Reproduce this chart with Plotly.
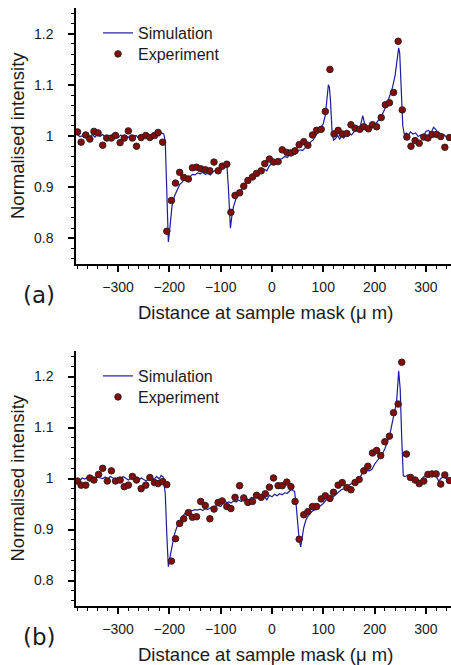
import plotly.graph_objects as go

# ---------------- data ----------------
sim_a_x = [-380, -375, -370, -365, -360, -355, -350, -345, -340, -335, -330, -325, -320, -315, -310, -305,
           -300, -295, -290, -285, -280, -275, -270, -265, -260, -255, -250, -245, -240, -235, -230, -225,
           -220, -215, -211, -208, -205, -202, -199, -195, -190, -185, -180, -175, -170, -165, -160, -155,
           -150, -145, -140, -135, -130, -125, -120, -115, -110, -105, -100, -95, -91, -88, -85, -81, -78,
           -75, -70, -65, -60, -55, -50, -45, -40, -35, -30, -25, -20, -15, -10, -5, 0, 5, 10, 15, 20, 25,
           30, 35, 40, 45, 50, 55, 60, 65, 70, 75, 80, 85, 90, 95, 100, 104, 107, 110, 112, 114, 117, 120,
           124, 128, 132, 136, 140, 145, 150, 155, 160, 165, 170, 174, 177, 181, 185, 190, 195, 200, 205,
           210, 215, 220, 225, 230, 235, 240, 244, 247, 249, 252, 255, 258, 262, 266, 270, 275, 280, 285,
           290, 295, 300, 305, 310, 315, 320, 325, 330, 335, 340, 345, 350]
sim_a_y = [1.004, 0.999, 1.000, 0.997, 1.001, 0.999, 1.003, 0.998, 1.004, 0.999, 1.003, 0.997, 1.001, 0.998, 1.003, 0.999,
           0.996, 1.002, 0.998, 1.001, 0.997, 1.002, 0.999, 1.001, 0.997, 1.000, 0.998, 1.002, 0.999, 1.001, 0.998, 1.003,
           1.000, 1.006, 1.004, 0.990, 0.880, 0.793, 0.820, 0.862, 0.883, 0.896, 0.905, 0.910, 0.917, 0.921, 0.920, 0.925,
           0.924, 0.928, 0.926, 0.929, 0.925, 0.927, 0.924, 0.930, 0.933, 0.936, 0.935, 0.940, 0.944, 0.946, 0.900, 0.820, 0.845,
           0.862, 0.878, 0.887, 0.895, 0.903, 0.909, 0.915, 0.918, 0.922, 0.927, 0.926, 0.931, 0.935, 0.932, 0.942, 0.946, 0.949, 0.951, 0.954, 0.956, 0.960,
           0.958, 0.964, 0.966, 0.964, 0.970, 0.973, 0.972, 0.978, 0.984, 0.988, 0.992, 1.000, 1.008, 1.016, 1.024, 1.040, 1.070, 1.100, 1.095, 1.070, 1.011, 0.992,
           0.995, 1.001, 0.994, 1.000, 0.996, 1.003, 1.005, 1.002, 1.008, 1.012, 1.010, 1.025, 1.040, 1.022, 1.015, 1.019, 1.016, 1.021, 1.027,
           1.034, 1.042, 1.052, 1.064, 1.080, 1.095, 1.118, 1.145, 1.172, 1.162, 1.100, 1.020, 1.003, 1.006, 1.002, 1.008, 1.004, 1.006, 0.999,
           1.002, 0.998, 1.009, 1.011, 1.006, 1.017, 1.012, 1.004, 0.999, 1.003, 0.998, 1.001, 0.999]

exp_a_x = [-379, -372, -363, -355, -347, -339, -330, -322, -313, -305, -296, -288, -280, -272, -264, -255, -246, -238,
           -229, -222, -213, -205, -196, -188, -180, -172, -163, -155, -147, -139, -130, -121, -113, -105, -97, -88,
           -80, -72, -63, -55, -47, -38, -30, -21, -14, -5, 3, 12, 20, 29, 37, 45, 53, 62, 70, 79, 87, 96, 104, 113,
           121, 129, 137, 146, 154, 162, 171, 179, 188, 196, 204, 213, 221, 229, 237, 246, 254, 263, 271, 279, 287,
           296, 304, 312, 321, 329, 337, 346]
exp_a_y = [1.008, 0.988, 1.002, 0.994, 1.009, 1.006, 0.982, 0.996, 0.996, 1.001, 0.987, 0.996, 1.010, 0.996, 0.980, 0.997, 1.001, 0.997,
           1.001, 1.007, 0.988, 0.814, 0.874, 0.908, 0.929, 0.919, 0.916, 0.938, 0.939, 0.936, 0.934, 0.932, 0.949, 0.932, 0.941, 0.945,
           0.851, 0.884, 0.889, 0.902, 0.913, 0.920, 0.927, 0.932, 0.946, 0.955, 0.949, 0.950, 0.973, 0.968, 0.967, 0.971, 0.983, 0.989, 0.982, 1.002, 1.011, 1.013, 1.048, 1.130,
           1.004, 1.011, 1.004, 1.005, 1.022, 1.015, 1.013, 1.018, 1.014, 1.022, 1.018, 1.036, 1.061, 1.065, 1.085, 1.185, 1.051, 0.998, 0.980, 0.991, 0.986,
           0.998, 0.996, 1.003, 1.003, 0.999, 0.978, 0.997]

sim_b_x = [-380, -375, -370, -365, -360, -355, -350, -345, -340, -335, -330, -325, -320, -315, -310, -305,
           -300, -295, -290, -285, -280, -275, -270, -265, -260, -255, -250, -245, -240, -235, -230, -225,
           -220, -216, -212, -208, -205, -202, -199, -196, -190, -185, -180, -175, -170, -165, -160, -155,
           -150, -145, -140, -135, -130, -125, -120, -115, -110, -105, -100, -95, -92, -88, -84, -80, -75,
           -70, -65, -60, -55, -50, -45, -40, -35, -30, -25, -20, -15, -10, -5, 0, 5, 10, 15, 20, 25, 30,
           35, 38, 41, 44, 47, 50, 53, 56, 59, 62, 66, 70, 75, 80, 85, 90, 95, 100, 105, 110, 115, 120, 125,
           130, 135, 140, 145, 150, 155, 160, 165, 170, 175, 177, 181, 185, 190, 195, 200, 205, 210, 215,
           220, 225, 230, 235, 240, 243, 247, 250, 253, 256, 260, 265, 270, 275, 280, 285, 290, 295, 300,
           305, 310, 315, 320, 325, 330, 335, 340, 345, 350]
sim_b_y = [0.998, 0.995, 1.001, 0.999, 1.002, 1.000, 1.003, 0.999, 1.004, 1.001, 1.000, 1.003, 0.999, 1.004, 1.001, 0.998,
           1.002, 0.999, 1.004, 1.000, 0.997, 1.001, 1.003, 0.999, 0.996, 1.001, 0.998, 0.995, 1.000, 1.003, 0.998, 1.004,
           0.999, 1.006, 1.003, 0.970, 0.890, 0.827, 0.845, 0.862, 0.891, 0.906, 0.917, 0.925, 0.931, 0.935, 0.938, 0.937,
           0.939, 0.938, 0.940, 0.937, 0.941, 0.939, 0.943, 0.942, 0.946, 0.947, 0.945, 0.951, 0.957, 0.952, 0.954, 0.952, 0.956,
           0.954, 0.958, 0.955, 0.959, 0.961, 0.958, 0.963, 0.962, 0.966, 0.964, 0.967, 0.965, 0.958, 0.967, 0.964, 0.969, 0.966, 0.970, 0.968, 0.972, 0.971,
           0.976, 0.979, 0.976, 0.975, 0.950, 0.905, 0.880, 0.866, 0.890, 0.904, 0.918, 0.926, 0.932, 0.937, 0.939, 0.943, 0.946, 0.951, 0.957, 0.962, 0.960, 0.965, 0.969,
           0.975, 0.978, 0.980, 0.983, 0.986, 0.990, 0.993, 0.997, 1.001, 1.008, 1.016, 1.012, 1.016, 1.015, 1.018, 1.028, 1.034, 1.041, 1.048,
           1.058, 1.072, 1.087, 1.112, 1.135, 1.150, 1.211, 1.175, 1.077, 1.005, 1.004, 1.007, 1.005, 1.002, 1.000, 0.998, 0.994, 1.003, 1.006,
           1.008, 1.007, 1.008, 1.004, 0.995, 1.001, 1.003, 1.000, 0.999, 0.999]

exp_b_x = [-379, -372, -363, -355, -347, -338, -330, -321, -313, -305, -296, -288, -280, -272, -264, -255, -246, -238,
           -229, -222, -213, -205, -196, -188, -180, -172, -163, -155, -147, -139, -130, -121, -113, -105, -97, -88,
           -80, -72, -63, -55, -47, -38, -30, -21, -13, -5, 3, 12, 20, 29, 37, 45, 53, 62, 70, 79, 87, 96, 104, 113,
           120, 129, 137, 146, 154, 162, 170, 179, 187, 196, 204, 212, 220, 229, 237, 246, 253, 262, 270, 279, 287,
           296, 304, 312, 320, 329, 337, 346]
exp_b_y = [0.995, 0.987, 0.987, 1.001, 0.997, 1.008, 1.020, 0.995, 1.015, 0.995, 0.997, 0.984, 0.987, 1.004, 0.997, 0.980, 0.987, 1.002,
           0.992, 0.990, 0.994, 0.988, 0.838, 0.882, 0.912, 0.921, 0.933, 0.924, 0.925, 0.955, 0.947, 0.921, 0.940, 0.953, 0.956, 0.945,
           0.941, 0.963, 0.986, 0.962, 0.953, 0.955, 0.967, 0.963, 0.970, 0.983, 1.001, 0.986, 0.986, 0.993, 0.984, 0.955, 0.881, 0.929, 0.935, 0.945, 0.945, 0.960, 0.966, 0.961,
           0.973, 0.987, 0.992, 0.982, 0.978, 0.992, 0.998, 1.015, 1.024, 1.050, 1.055, 1.045, 1.072, 1.083, 1.129, 1.146, 1.228, 1.048, 1.002, 0.997, 0.990,
           0.995, 1.008, 1.009, 1.009, 0.989, 1.007, 0.996]

x_range = [-382, 349]
y_range = [0.75, 1.25]
x_title = "Distance at sample mask (\u03bc m)"
y_title = "Normalised intensity"
panel_labels = ["(a)", "(b)"]
series_names = ["Simulation", "Experiment"]

# ---------------- layout helpers ----------------
W, H = 451, 665
L = 76


def fx(px):
    return (px - L) / (W - L)


def fy(py):
    return 1 - py / H


LINE_COLOR = "#1c1ca0"
PT_FILL = "#860c0c"
PT_EDGE = "#2e2020"
FONT = "Liberation Sans, Arial, Helvetica, sans-serif"
TXT = "#1a1a1a"

# panel geometry in pixels: (plot top, plot bottom, legend row 1 centre, legend row 2 centre)
geom = [(8, 264, 33, 54), (351, 606, 376, 397)]

fig = go.Figure()
panels = [
    (sim_a_x, sim_a_y, exp_a_x, exp_a_y, "x", "y", "legend", "legend3"),
    (sim_b_x, sim_b_y, exp_b_x, exp_b_y, "x2", "y2", "legend2", "legend4"),
]
for sx, sy, ex, ey, xa, ya, lg1, lg2 in panels:
    fig.add_trace(go.Scatter(x=sx, y=sy, mode="lines", name=series_names[0],
                             line=dict(color=LINE_COLOR, width=1.2),
                             xaxis=xa, yaxis=ya, legend=lg1))
    fig.add_trace(go.Scatter(x=ex, y=ey, mode="markers", name=series_names[1],
                             marker=dict(size=6.5, color=PT_FILL, line=dict(color=PT_EDGE, width=1)),
                             xaxis=xa, yaxis=ya, legend=lg2))


def xaxis(anchor):
    return dict(range=x_range, anchor=anchor, domain=[0, 1], showline=True, linecolor="black",
                linewidth=1.5, ticks="outside", ticklen=6, tickwidth=1.5, tickcolor="black",
                dtick=100, tick0=0,
                minor=dict(dtick=20, tick0=0, ticks="outside", ticklen=3, tickwidth=1,
                           tickcolor="black", showgrid=False),
                showgrid=False, zeroline=False, ticklabelstandoff=3,
                tickfont=dict(family=FONT, size=14, color=TXT), automargin=False, fixedrange=True)


def yaxis(anchor, top_px, bot_px):
    return dict(range=y_range, anchor=anchor, domain=[fy(bot_px), fy(top_px)], showline=True,
                linecolor="black", linewidth=1.5, ticks="outside", ticklen=6, tickwidth=1.5,
                tickcolor="black", dtick=0.1, tick0=0.8,
                minor=dict(dtick=0.02, tick0=0.8, ticks="outside", ticklen=3, tickwidth=1,
                           tickcolor="black", showgrid=False),
                showgrid=False, zeroline=False, ticklabelstandoff=12,
                tickfont=dict(family=FONT, size=14, color=TXT), automargin=False, fixedrange=True)


annotations = []
for i, (top, bot, _, _) in enumerate(geom):
    annotations.append(dict(text=y_title, textangle=-90, x=fx(17), y=fy((top + bot) / 2),
                            xref="paper", yref="paper", xanchor="center", yanchor="middle",
                            showarrow=False, font=dict(family=FONT, size=18.5, color=TXT)))
    annotations.append(dict(text=x_title, x=fx(265), y=fy(bot + 48), xref="paper", yref="paper",
                            xanchor="center", yanchor="middle",
                            showarrow=False, font=dict(family=FONT, size=18.5, color=TXT)))
    annotations.append(dict(text=panel_labels[i], x=fx(39), y=fy(bot + 31), xref="paper", yref="paper",
                            xanchor="center", yanchor="middle",
                            showarrow=False, font=dict(family="DejaVu Sans", size=23, color=TXT)))


def legend(centre_px):
    return dict(x=fx(98), y=fy(centre_px), xanchor="left", yanchor="middle", bgcolor="rgba(0,0,0,0)",
                font=dict(family=FONT, size=16, color=TXT), itemwidth=30, tracegroupgap=0)


fig.update_layout(
    width=W, height=H,
    margin=dict(l=L, r=0, t=0, b=0, pad=0),
    paper_bgcolor="white", plot_bgcolor="white",
    xaxis=xaxis("y"), yaxis=yaxis("x", geom[0][0], geom[0][1]),
    xaxis2=xaxis("y2"), yaxis2=yaxis("x2", geom[1][0], geom[1][1]),
    legend=legend(geom[0][2]), legend3=legend(geom[0][3]),
    legend2=legend(geom[1][2]), legend4=legend(geom[1][3]),
    annotations=annotations,
    showlegend=True,
)

fig.write_html("out.html", config={"displayModeBar": False},
               post_script="document.body.style.margin='0px';document.body.style.overflow='hidden';")
